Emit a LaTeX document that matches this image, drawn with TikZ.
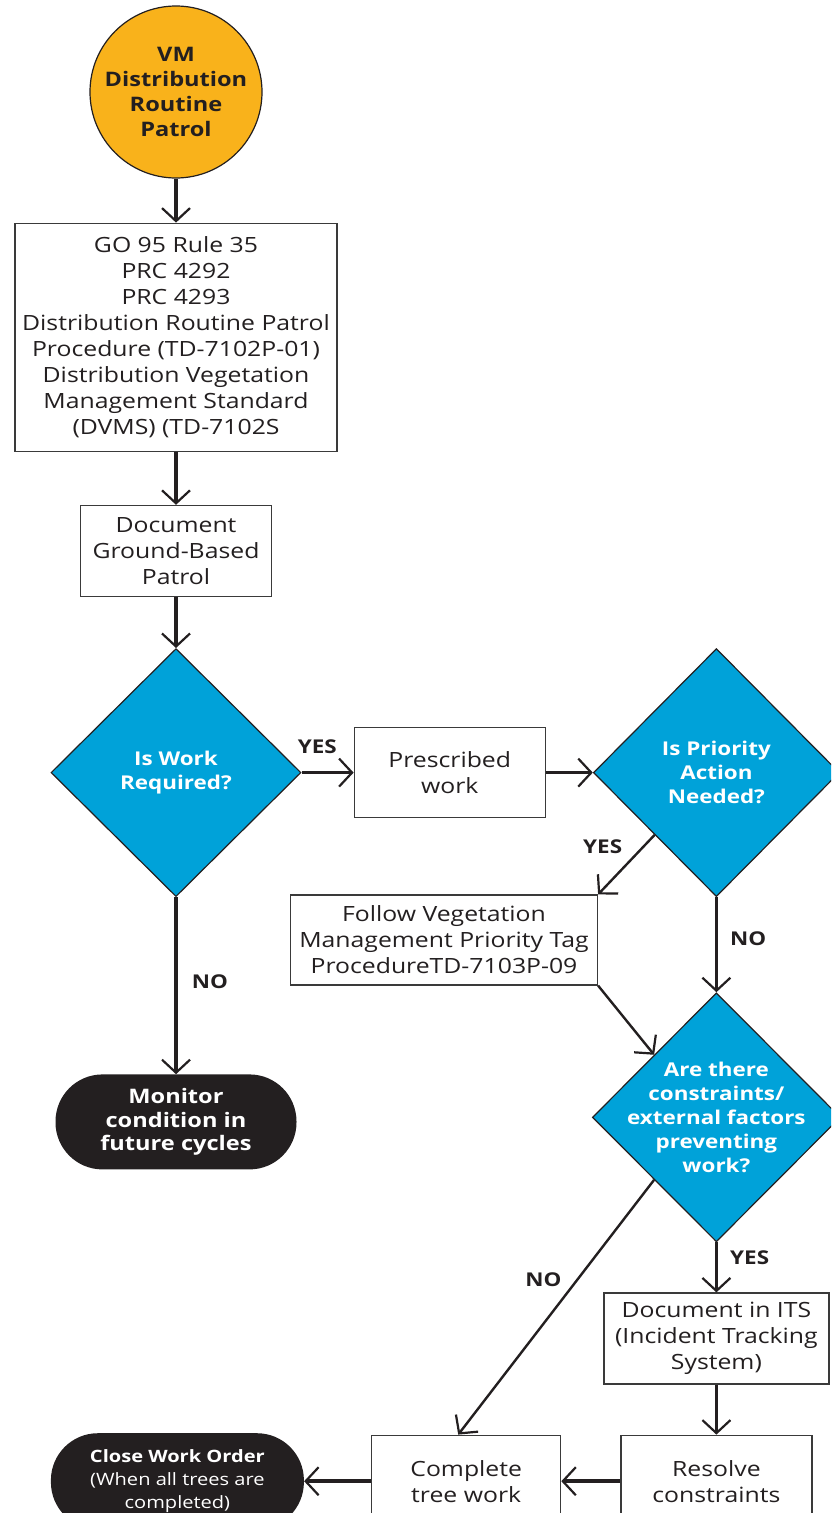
\documentclass[tikz,border=0pt]{standalone}
\usepackage{fontspec}
\setmainfont{Open Sans}[FakeStretch=1.18]
\usepackage{xcolor}
\usepackage{tikz}
\usetikzlibrary{arrows.meta,positioning,shapes.geometric}
\definecolor{scegold}{HTML}{F9B21B}
\definecolor{sceblue}{HTML}{00A2D9}
\definecolor{ink}{HTML}{231F20}
\definecolor{edgegray}{HTML}{3A3A3A}

\begin{document}
\begin{tikzpicture}[
    x=1pt,y=-1pt,
    node distance=50pt,
    startnode/.style={circle,draw=ink,line width=1.2pt,fill=scegold,minimum size=172pt,inner sep=0pt,align=center,text=ink,font=\bfseries\fontsize{20}{25}\selectfont},
    box/.style={draw=edgegray,line width=1.2pt,fill=white,align=center,inner sep=0pt,text=ink,font=\fontsize{21}{26}\selectfont},
    decision/.style={diamond,draw=ink,line width=1.2pt,fill=sceblue,inner sep=0pt,minimum width=248pt,minimum height=248pt},
    qtext/.style={text=white,align=center,inner sep=0pt,font=\bfseries\fontsize{19}{24}\selectfont},
    term/.style={fill=ink,rounded corners=47pt,align=center,text=white,inner sep=0pt},
    lbl/.style={font=\bfseries\fontsize{19}{22}\selectfont,text=ink,inner sep=0pt},
    arrow/.style={-{Straight Barb[length=13pt,width=28pt,line width=2.2pt]},line width=3.6pt,color=ink},
    thinarrow/.style={arrow,line width=2.4pt}
  ]
    \useasboundingbox (0,0) rectangle (831,1513);
    \clip (0,0) rectangle (831,1513);
    \node[startnode] (start) at (176,92) {VM\\Distribution\\Routine\\Patrol};
    \node[box,below=44pt of start,minimum width=322pt,minimum height=228pt] (rules) {GO 95 Rule 35\\PRC 4292\\PRC 4293\\Distribution Routine Patrol\\Procedure (TD-7102P-01)\\Distribution Vegetation\\Management Standard\\(DVMS) (TD-7102S};
    \node[box,below=53pt of rules,minimum width=191pt,minimum height=91pt] (patrol) {Document\\Ground-Based\\Patrol};
    \node[decision,below=51pt of patrol,minimum width=250pt,label={[qtext]center:{Is Work\\Required?}}] (workq) {};
    \node[term,below=177pt of workq,minimum width=241pt,minimum height=95pt,font=\bfseries\fontsize{20}{23.5}\selectfont] (monitor) {Monitor\\condition in\\future cycles};
    \node[box,right=52pt of workq,minimum width=191pt,minimum height=90pt] (presc) {Prescribed\\work};
    \node[decision,right=47pt of presc,minimum width=246pt,label={[qtext]center:{Is Priority\\Action\\Needed?}}] (prio) {};
    \node[box,minimum width=307pt,minimum height=90pt] (tag) at (444,940) {Follow Vegetation\\Management Priority Tag\\ProcedureTD-7103P-09};
    \node[decision,below=95pt of prio,minimum height=249pt,label={[qtext]center:{Are there\\constraints/\\external factors\\preventing\\work?}}] (cons) {};
    \node[box,below=50pt of cons,minimum width=225pt,minimum height=91pt] (its) {Document in ITS\\(Incident Tracking\\System)};
    \node[box,below=50pt of its,minimum width=191pt,minimum height=92pt] (resolve) {Resolve\\constraints};
    \node[box,left=59pt of resolve,minimum width=189pt,minimum height=92pt] (complete) {Complete\\tree work};
    \node[term,left=67pt of complete,minimum width=253pt,minimum height=96pt,font=\fontsize{17}{23}\selectfont] (close) {\textbf{Close Work Order}\\(When all trees are\\completed)};
    \draw[arrow] (start) -- (rules);
    \draw[arrow] (rules) -- (patrol);
    \draw[arrow] (patrol) -- (workq);
    \draw[arrow] (workq) -- node[lbl,pos=0.3,above=17pt] {YES} (presc);
    \draw[arrow] (workq) -- node[lbl,pos=0.48,right=14pt] {NO} (monitor);
    \draw[arrow] (presc) -- (prio);
    \draw[thinarrow] (prio.south west) -- node[lbl,pos=0.2,left=20pt] {YES} (tag.north east);
    \draw[arrow] (prio) -- node[lbl,pos=0.44,right=12pt] {NO} (cons);
    \draw[thinarrow] (tag.south east) -- (cons.north west);
    \draw[thinarrow] (cons.south west) -- node[lbl,pos=0.39,left=15pt] {NO} ([xshift=-8pt]complete.north);
    \draw[arrow] (cons) -- node[lbl,pos=0.3,right=12pt] {YES} (its);
    \draw[arrow] (its) -- (resolve);
    \draw[arrow] (resolve) -- (complete);
    \draw[arrow] (complete) -- (close);
  \end{tikzpicture}
\end{document}
